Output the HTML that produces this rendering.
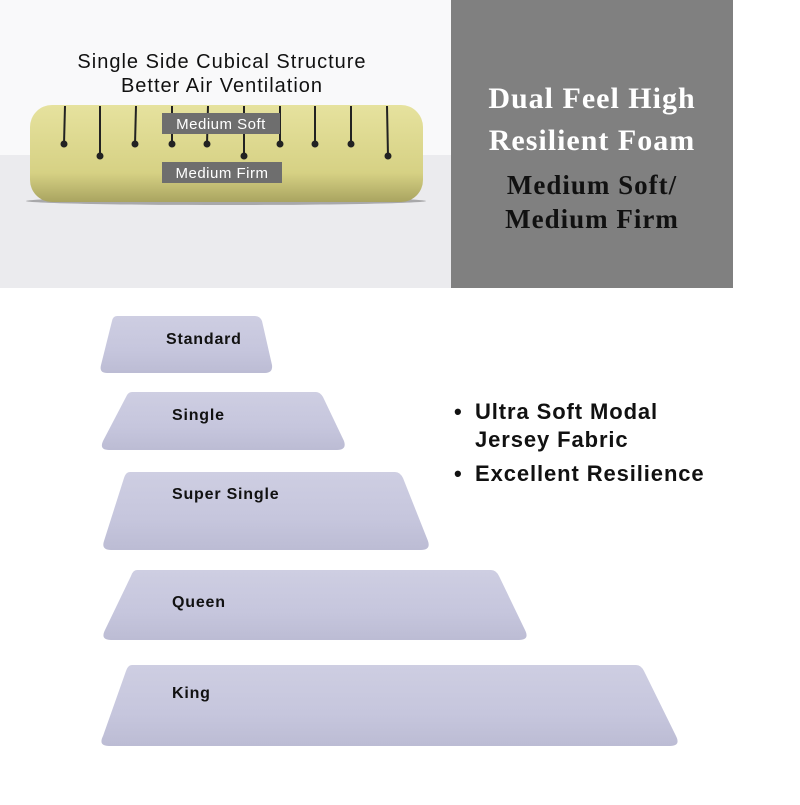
<!DOCTYPE html>
<html><head><style>
body{margin:0;width:800px;height:800px;overflow:hidden;background:#fff;font-family:"Liberation Sans",sans-serif}
</style></head><body>
<svg width="800" height="800" xmlns="http://www.w3.org/2000/svg">
<defs>
<linearGradient id="fg" x1="0" y1="0" x2="0" y2="1">
<stop offset="0" stop-color="#e6e29e"/><stop offset="0.7" stop-color="#d6d184"/><stop offset="1" stop-color="#a9a460"/>
</linearGradient>
<linearGradient id="pg" x1="0" y1="0" x2="0" y2="1">
<stop offset="0" stop-color="#cecee2"/><stop offset="0.6" stop-color="#c6c6dd"/><stop offset="1" stop-color="#bcbcd4"/>
</linearGradient>
</defs>
<rect x="0" y="0" width="451" height="155" fill="#f9f9fa"/>
<rect x="0" y="155" width="451" height="133" fill="#ebebee"/>
<rect x="451" y="0" width="282" height="288" fill="#808080"/>
<g font-size="20" text-anchor="middle" fill="#111" letter-spacing="1">
<text x="222" y="68">Single Side Cubical Structure</text>
<text x="222" y="92">Better Air Ventilation</text>
</g>
<ellipse cx="226" cy="201" rx="200" ry="4" fill="#444" opacity="0.4"/>
<rect x="30" y="105" width="393" height="97" rx="22" fill="url(#fg)"/>
<g stroke="#222" stroke-width="2" fill="#222">
<line x1="65" y1="106" x2="64" y2="144"/><circle cx="64" cy="144" r="2.5"/>
<line x1="100" y1="106" x2="100" y2="156"/><circle cx="100" cy="156" r="2.5"/>
<line x1="136" y1="106" x2="135" y2="144"/><circle cx="135" cy="144" r="2.5"/>
<line x1="172" y1="106" x2="172" y2="144"/><circle cx="172" cy="144" r="2.5"/>
<line x1="208" y1="106" x2="207" y2="144"/><circle cx="207" cy="144" r="2.5"/>
<line x1="244" y1="106" x2="244" y2="156"/><circle cx="244" cy="156" r="2.5"/>
<line x1="280" y1="106" x2="280" y2="144"/><circle cx="280" cy="144" r="2.5"/>
<line x1="315" y1="106" x2="315" y2="144"/><circle cx="315" cy="144" r="2.5"/>
<line x1="351" y1="106" x2="351" y2="144"/><circle cx="351" cy="144" r="2.5"/>
<line x1="387" y1="106" x2="388" y2="156"/><circle cx="388" cy="156" r="2.5"/>
</g>
<rect x="162" y="113" width="118" height="21" fill="#6e6e6e"/>
<text x="221" y="129" font-size="15" text-anchor="middle" fill="#fff" letter-spacing="0.5">Medium Soft</text>
<rect x="162" y="162" width="120" height="21" fill="#6e6e6e"/>
<text x="222" y="178" font-size="15" text-anchor="middle" fill="#fff" letter-spacing="0.5">Medium Firm</text>
<g font-family="Liberation Serif,serif" font-weight="bold" fill="#fff" text-anchor="middle" letter-spacing="1">
<text x="592" y="108" font-size="30">Dual Feel High</text>
<text x="592" y="150" font-size="30">Resilient Foam</text>
<text x="592" y="194" font-size="27" fill="#111">Medium Soft/</text>
<text x="592" y="228" font-size="27" fill="#111">Medium Firm</text>
</g>
<g fill="url(#pg)">
<path d="M117,316 H255 Q260,316 262,321 L272,365 Q273,373 265,373 H107 Q99,373 101,365 L112,321 Q113,316 117,316Z"/>
<path d="M132,392 H316 Q320,392 323,397 L344,441 Q347,450 337,450 H109 Q99,450 103,441 L126,397 Q128,392 132,392Z"/>
<path d="M130,472 H395 Q400,472 403,478 L428,541 Q431,550 421,550 H111 Q101,550 104,541 L124,478 Q126,472 130,472Z"/>
<path d="M137,570 H491 Q496,570 499,576 L525,630 Q530,640 519,640 H111 Q100,640 105,630 L131,576 Q133,570 137,570Z"/>
<path d="M132,665 H636 Q641,665 644,671 L676,736 Q681,746 670,746 H109 Q98,746 103,736 L126,671 Q128,665 132,665Z"/>
</g>
<g font-weight="bold" font-size="16" fill="#111" letter-spacing="0.8">
<text x="166" y="344">Standard</text>
<text x="172" y="420">Single</text>
<text x="172" y="499">Super Single</text>
<text x="172" y="607">Queen</text>
<text x="172" y="698">King</text>
</g>
<g font-weight="bold" font-size="22" fill="#111" letter-spacing="0.9">
<text x="454" y="419">•</text><text x="475" y="419">Ultra Soft Modal</text>
<text x="475" y="447">Jersey Fabric</text>
<text x="454" y="481">•</text><text x="475" y="481">Excellent Resilience</text>
</g>
</svg>
</body></html>
